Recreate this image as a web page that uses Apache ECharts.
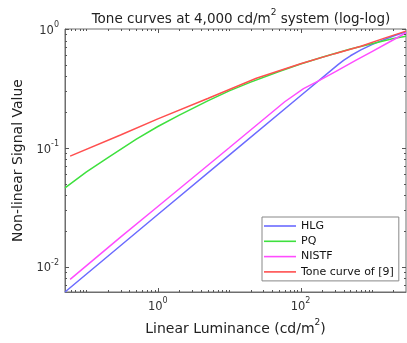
<!DOCTYPE html>
<html>
<head>
<meta charset="utf-8">
<script src="https://cdn.jsdelivr.net/npm/echarts@6/dist/echarts.min.js"></script>
<style>
  html, body { margin: 0; padding: 0; background: #fff; }
  #chart { width: 407px; height: 343px; }
</style>
</head>
<body>
<div id="chart"></div>
<script>
// values (luminance in cd/m2, signal 0..1)
const hlgLum = [0.05, 1, 10, 100, 335, 400, 500, 700, 1000, 1500, 2000, 3000];
const hlgVal = [0.0061, 0.0274, 0.0866, 0.274, 0.501, 0.544, 0.595, 0.667, 0.739, 0.817, 0.872, 0.947];

const pqLum = [0.05, 0.1, 0.2, 0.5, 1, 2, 5, 10, 20, 50, 100, 200, 500, 1000, 2000, 3000];
const pqVal = [0.046, 0.0626, 0.0825, 0.118, 0.151, 0.188, 0.248, 0.301, 0.357, 0.439, 0.508, 0.579, 0.678, 0.752, 0.832, 0.87];

const nistfLum = [0.059, 0.3, 1, 10, 60, 110, 173, 300, 600, 1000, 2000, 3000];
const nistfVal = [0.0078, 0.0177, 0.032, 0.1, 0.244, 0.315, 0.362, 0.434, 0.546, 0.646, 0.812, 0.93];

const toneLum = [0.059, 0.3, 1, 5, 24, 100, 300, 700, 1500, 3000];
const toneVal = [0.085, 0.128, 0.175, 0.26, 0.385, 0.51, 0.62, 0.715, 0.838, 0.96];

const seriesNames = ['HLG', 'PQ', 'NISTF', 'Tone curve of [9]'];
const seriesColors = ['#6b6bff', '#3ee03e', '#ff4cff', '#ff4f4f'];

const xMin = 0.05, xMax = 3000;
const yMin = 0.0061, yMax = 1;
const decades = [0.001, 0.01, 0.1, 1, 10, 100, 1000];
const minorSteps = [2, 3, 4, 5, 6, 7, 8, 9];

const font = 'DejaVu Sans';
const zip = (a, b) => a.map((v, i) => [v, b[i]]);

// ticks: [value, length]
const xTicks = [];
const yTicks = [];
decades.forEach(d => {
  const e = Math.round(Math.log10(d));
  if (d > xMin && d < xMax) xTicks.push([d, e % 2 === 0 ? 4 : 2]);
  if (d > yMin && d <= yMax) yTicks.push([d, 4]);
  minorSteps.forEach(m => {
    const v = m * d;
    if (v > xMin && v < xMax) xTicks.push([v, 2]);
    if (v > yMin && v < yMax) yTicks.push([v, 2]);
  });
});

const powLabel = (v, evenOnly) => {
  const e = Math.log10(v);
  const r = Math.round(e);
  if (Math.abs(e - r) > 1e-6) return '';
  if (evenOnly && r % 2 !== 0) return '';
  return '{b|10}{s|' + r + '}';
};

const labelRich = {
  b: { fontSize: 11.5, fontFamily: font, color: '#333', padding: [4, 0, 0, 0] },
  s: { fontSize: 8, fontFamily: font, color: '#333', verticalAlign: 'top' }
};
const richFor = (size, supSize) => ({
  b: { fontSize: size, fontFamily: font, fontWeight: 'normal', color: '#222', padding: [4, 0, 0, 0] },
  s: { fontSize: supSize, fontFamily: font, fontWeight: 'normal', color: '#222', verticalAlign: 'top' }
});

const tickSeries = (data, isX) => ({
  type: 'custom',
  silent: true,
  clip: false,
  z: 10,
  data: data.map(t => isX ? [t[0], yMin, t[1]] : [xMin, t[0], t[1]]),
  encode: { x: 0, y: 1 },
  renderItem: (params, api) => {
    const cs = params.coordSys;
    const len = api.value(2);
    const style = { stroke: '#555', lineWidth: 1 };
    if (isX) {
      const x = Math.round(api.coord([api.value(0), yMin])[0]) + 0.5;
      const b = cs.y + cs.height, t = cs.y;
      return { type: 'group', children: [
        { type: 'line', shape: { x1: x, y1: b, x2: x, y2: b - len }, style },
        { type: 'line', shape: { x1: x, y1: t, x2: x, y2: t + len }, style }
      ] };
    }
    const y = Math.round(api.coord([xMin, api.value(1)])[1]) + 0.5;
    const l = cs.x, r = cs.x + cs.width;
    return { type: 'group', children: [
      { type: 'line', shape: { x1: l, y1: y, x2: l + len, y2: y }, style },
      { type: 'line', shape: { x1: r, y1: y, x2: r - len, y2: y }, style }
    ] };
  }
});

const lineSeries = (name, lum, val, i) => ({
  name,
  type: 'line',
  data: zip(lum, val),
  symbol: 'none',
  lineStyle: { color: seriesColors[i], width: 1.5 },
  itemStyle: { color: seriesColors[i] },
  z: 3 + i
});

const chart = echarts.init(document.getElementById('chart'), null, { renderer: 'canvas' });

chart.setOption({
  animation: false,
  backgroundColor: '#fff',
  title: {
    text: '{b|Tone curves at 4,000 cd/m}{s|2}{b| system (log-log)}',
    left: 236,
    top: 3,
    textAlign: 'center',
    textStyle: { fontWeight: 'normal', rich: richFor(13.5, 9) }
  },
  grid: {
    left: 65, right: 1, top: 29, bottom: 51,
    show: true, borderColor: '#6e6e6e', borderWidth: 1,
    outerBoundsMode: 'none'
  },
  legend: {
    data: seriesNames,
    orient: 'vertical',
    left: 262,
    top: 217,
    icon: 'rect',
    itemWidth: 32,
    itemHeight: 1.6,
    itemGap: 1.3,
    padding: [2, 5, 2, 2],
    borderColor: '#888',
    borderWidth: 1,
    backgroundColor: '#fff',
    textStyle: { fontSize: 11, lineHeight: 14, fontFamily: font, color: '#111' }
  },
  xAxis: {
    type: 'log',
    logBase: 10,
    min: xMin,
    max: xMax,
    splitNumber: 5,
    axisLine: { show: true, lineStyle: { color: '#6e6e6e' } },
    axisTick: { show: false },
    splitLine: { show: false },
    axisLabel: {
      margin: 5,
      showMinLabel: false,
      showMaxLabel: false,
      formatter: v => powLabel(v, true),
      rich: labelRich
    },
    name: '{b|Linear Luminance (cd/m}{s|2}{b|)}',
    nameLocation: 'middle',
    nameGap: 26,
    nameTextStyle: { rich: richFor(14, 9) }
  },
  yAxis: {
    type: 'log',
    logBase: 10,
    min: yMin,
    max: yMax,
    splitNumber: 5,
    axisLine: { show: true, lineStyle: { color: '#6e6e6e' } },
    axisTick: { show: false },
    splitLine: { show: false },
    axisLabel: {
      margin: 6,
      showMinLabel: false,
      formatter: v => powLabel(v, false),
      rich: labelRich
    },
    name: 'Non-linear Signal Value',
    nameLocation: 'middle',
    nameGap: 31,
    nameTextStyle: { fontSize: 14, fontFamily: font, color: '#222' }
  },
  series: [
    lineSeries(seriesNames[0], hlgLum, hlgVal, 0),
    lineSeries(seriesNames[1], pqLum, pqVal, 1),
    lineSeries(seriesNames[2], nistfLum, nistfVal, 2),
    lineSeries(seriesNames[3], toneLum, toneVal, 3),
    tickSeries(xTicks, true),
    tickSeries(yTicks, false)
  ]
});
</script>
</body>
</html>
